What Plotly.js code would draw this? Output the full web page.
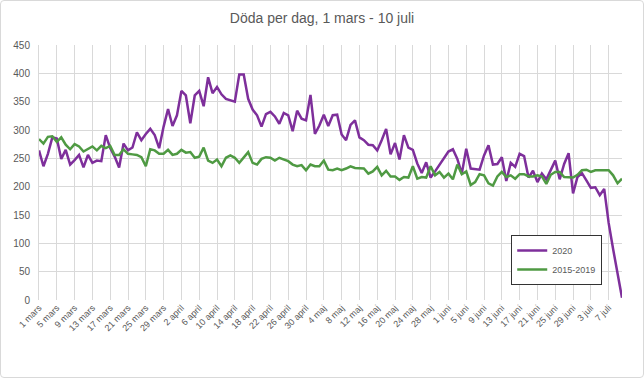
<!DOCTYPE html>
<html>
<head>
<meta charset="utf-8">
<script src="https://cdn.plot.ly/plotly-3.0.1.min.js"></script>
<style>
html,body{margin:0;padding:0;background:#fff;}
#wrap{position:relative;width:644px;height:378px;}
#chart{width:644px;height:378px;}
#frame{position:absolute;left:0;top:0;width:642px;height:376px;border:1px solid #d9d9d9;border-radius:4px;pointer-events:none;}
</style>
</head>
<body>
<div id="wrap"><div id="chart"></div><div id="frame"></div></div>
<script>
const categories = [
"1 mars","2 mars","3 mars","4 mars","5 mars","6 mars","7 mars","8 mars","9 mars","10 mars",
"11 mars","12 mars","13 mars","14 mars","15 mars","16 mars","17 mars","18 mars","19 mars","20 mars",
"21 mars","22 mars","23 mars","24 mars","25 mars","26 mars","27 mars","28 mars","29 mars","30 mars","31 mars",
"1 april","2 april","3 april","4 april","5 april","6 april","7 april","8 april","9 april","10 april",
"11 april","12 april","13 april","14 april","15 april","16 april","17 april","18 april","19 april","20 april",
"21 april","22 april","23 april","24 april","25 april","26 april","27 april","28 april","29 april","30 april",
"1 maj","2 maj","3 maj","4 maj","5 maj","6 maj","7 maj","8 maj","9 maj","10 maj",
"11 maj","12 maj","13 maj","14 maj","15 maj","16 maj","17 maj","18 maj","19 maj","20 maj",
"21 maj","22 maj","23 maj","24 maj","25 maj","26 maj","27 maj","28 maj","29 maj","30 maj","31 maj",
"1 juni","2 juni","3 juni","4 juni","5 juni","6 juni","7 juni","8 juni","9 juni","10 juni",
"11 juni","12 juni","13 juni","14 juni","15 juni","16 juni","17 juni","18 juni","19 juni","20 juni",
"21 juni","22 juni","23 juni","24 juni","25 juni","26 juni","27 juni","28 juni","29 juni","30 juni",
"1 juli","2 juli","3 juli","4 juli","5 juli","6 juli","7 juli","8 juli","9 juli","10 juli"
];

const deaths2020 = [
264,236,258,287,285,249,265,239,247,256,
234,256,242,246,245,291,268,253,234,276,
264,269,296,282,293,302,291,268,306,337,
307,326,369,361,312,361,369,342,393,365,
376,363,355,352,350,398,398,355,336,326,
306,328,332,324,311,330,326,298,334,320,
317,362,293,308,327,307,326,327,292,282,
309,317,287,282,274,273,264,282,302,257,
277,248,291,269,265,241,224,243,216,227,
239,252,262,266,249,223,267,232,231,230,
255,273,239,240,252,210,242,235,258,254,
216,228,208,223,213,229,246,213,240,259,
188,217,224,211,198,199,185,196,136,90,
46,4
];

const deaths2015_2019 = [
284,276,288,289,279,287,274,266,275,271,
262,267,271,264,272,268,272,256,256,266,
258,257,256,252,236,266,264,258,258,265,
256,258,265,260,261,251,253,269,246,242,
248,236,251,255,251,242,252,261,242,239,
249,252,251,246,251,248,245,239,236,238,
229,239,236,236,246,230,229,232,229,232,
236,233,232,232,223,227,235,220,228,218,
218,212,217,216,236,214,217,216,236,220,
226,216,223,213,239,222,227,203,208,222,
220,206,202,218,226,217,220,214,222,222,
218,218,220,218,205,221,226,226,217,217,
216,221,229,230,226,229,229,229,229,220,
206,214
];

const tickLabels = categories.filter((c, i) => i % 4 === 0);
const yTicks = [0,50,100,150,200,250,300,350,400,450];

const font = 'Liberation Sans, Arial, sans-serif';

const traces = [
  {x: categories, y: deaths2020, name: '2020', type: 'scatter', mode: 'lines',
   line: {color: '#7E2F9B', width: 2.5}, legendgroup: 'a'},
  {x: categories, y: deaths2015_2019, name: '2015-2019', type: 'scatter', mode: 'lines',
   line: {color: '#4F9A43', width: 2.5}, legendgroup: 'b'}
];

const layout = {
  width: 644, height: 378,
  margin: {l: 39, r: 22, t: 45, b: 78},
  paper_bgcolor: '#ffffff', plot_bgcolor: '#ffffff',
  font: {family: font, color: '#595959'},
  title: {text: 'Döda per dag, 1 mars - 10 juli', x: 0.5, xanchor: 'center',
          y: 0.952, yanchor: 'middle', font: {family: font, size: 14, color: '#595959'}},
  xaxis: {type: 'category', range: [0, categories.length - 1],
          tickmode: 'array', tickvals: tickLabels, ticktext: tickLabels,
          tickangle: -45, tickfont: {size: 9, color: '#595959'},
          showgrid: true, gridcolor: '#d9d9d9', gridwidth: 1,
          showline: false, zeroline: false, ticks: '', fixedrange: true},
  yaxis: {range: [0, 450], tickmode: 'array', tickvals: yTicks,
          tickfont: {size: 10, color: '#595959'},
          showgrid: true, gridcolor: '#d9d9d9', gridwidth: 1,
          zeroline: false, showline: true, linecolor: '#d9d9d9', ticks: '',
          ticklabelstandoff: 6, fixedrange: true},
  showlegend: true,
  legend: {x: 0.81, y: 0.255, xanchor: 'left', yanchor: 'top',
           bordercolor: '#333333', borderwidth: 1, bgcolor: '#ffffff',
           font: {size: 9, color: '#595959', family: font},
           traceorder: 'grouped', tracegroupgap: 0, itemwidth: 30}
};

Plotly.newPlot('chart', traces, layout, {displayModeBar: false, staticPlot: true});
</script>
</body>
</html>
